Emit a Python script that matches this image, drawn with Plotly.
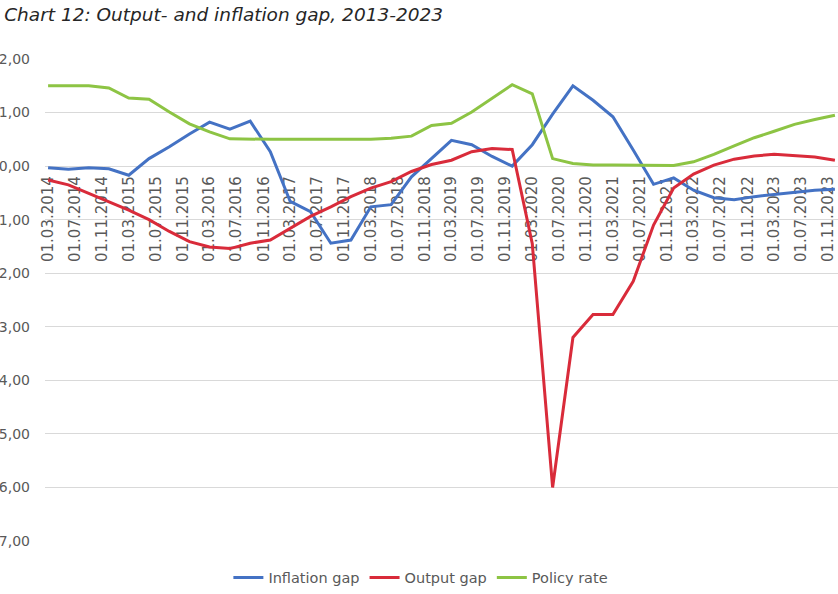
import plotly.graph_objects as go
import pandas as pd

# Quarterly observations, 01.03.2014 .. 01.12.2023
dates = pd.date_range("2014-03-01", "2023-12-01", freq="3MS")

inflation_gap = [-0.03, -0.06, -0.03, -0.05, -0.17, 0.14, 0.36, 0.60, 0.82, 0.69,
                 0.84, 0.27, -0.66, -0.85, -1.44, -1.38, -0.76, -0.72, -0.20, 0.15,
                 0.48, 0.40, 0.18, 0.00, 0.40, 0.97, 1.50, 1.23, 0.92, 0.30,
                 -0.34, -0.22, -0.45, -0.59, -0.63, -0.57, -0.53, -0.49, -0.45, -0.43]

output_gap = [-0.26, -0.35, -0.51, -0.66, -0.82, -1.00, -1.22, -1.41, -1.51, -1.54,
              -1.44, -1.38, -1.16, -0.94, -0.76, -0.57, -0.41, -0.29, -0.10, 0.03,
              0.11, 0.27, 0.33, 0.31, -1.45, -6.00, -3.20, -2.77, -2.77, -2.15,
              -1.10, -0.41, -0.15, 0.02, 0.13, 0.19, 0.22, 0.20, 0.17, 0.11]

policy_rate = [1.50, 1.50, 1.50, 1.46, 1.27, 1.25, 1.01, 0.79, 0.64, 0.51,
               0.50, 0.50, 0.50, 0.50, 0.50, 0.50, 0.50, 0.52, 0.56, 0.76,
               0.80, 1.01, 1.26, 1.52, 1.35, 0.14, 0.05, 0.02, 0.02, 0.02,
               0.01, 0.01, 0.08, 0.22, 0.38, 0.53, 0.65, 0.78, 0.87, 0.95]

series_names = ["Inflation gap", "Output gap", "Policy rate"]
series_colors = ["#4472C4", "#D92B3A", "#8DC444"]

tick_dates = pd.date_range("2014-03-01", "2023-11-01", freq="4MS")
y_ticks = [2, 1, 0, -1, -2, -3, -4, -5, -6, -7]

fig = go.Figure()
for name, vals, col in zip(series_names, [inflation_gap, output_gap, policy_rate], series_colors):
    fig.add_trace(go.Scatter(x=dates, y=vals, name=name, mode="lines",
                             line=dict(color=col, width=3), hoverinfo="skip"))

ymin, ymax = -7, 2
fig.update_layout(
    width=838, height=594,
    margin=dict(l=45, r=0, t=59, b=51),
    paper_bgcolor="white", plot_bgcolor="white",
    separators=", ",
    title=dict(text="<i>Chart 12: Output- and inflation gap, 2013-2023</i>",
               x=0.005, xanchor="left", xref="container", y=0.976, yanchor="middle",
               yref="container",
               font=dict(family="DejaVu Sans", size=18.5, color="#262626")),
    showlegend=True,
    legend=dict(orientation="h", x=0.474, xanchor="center", y=-0.076, yanchor="middle",
                font=dict(family="DejaVu Sans", size=14.5, color="#595959"),
                itemwidth=30, tracegroupgap=0),
    xaxis=dict(type="date", range=["2014-02-15", "2023-12-15"],
               tickmode="array", tickvals=tick_dates, tickformat="%d.%m.%Y",
               tickangle=-90, showgrid=False, zeroline=False, showline=False,
               ticks="", anchor="free", position=(0 - ymin) / (ymax - ymin),
               tickfont=dict(family="DejaVu Sans", size=15, color="#595959"),
               ticklabelstandoff=6, layer="below traces", automargin=False,
               fixedrange=True),
    yaxis=dict(range=[ymin, ymax], tickmode="array", tickvals=y_ticks,
               tickformat=".2f", showgrid=True, gridcolor="#D9D9D9", gridwidth=1,
               zeroline=False, showline=False, ticks="",
               tickfont=dict(family="DejaVu Sans", size=14, color="#595959"),
               ticklabelstandoff=14, automargin=False, fixedrange=True),
)

fig.write_html("out.html", config={"displayModeBar": False},
               post_script="document.body.style.margin='0px';")
